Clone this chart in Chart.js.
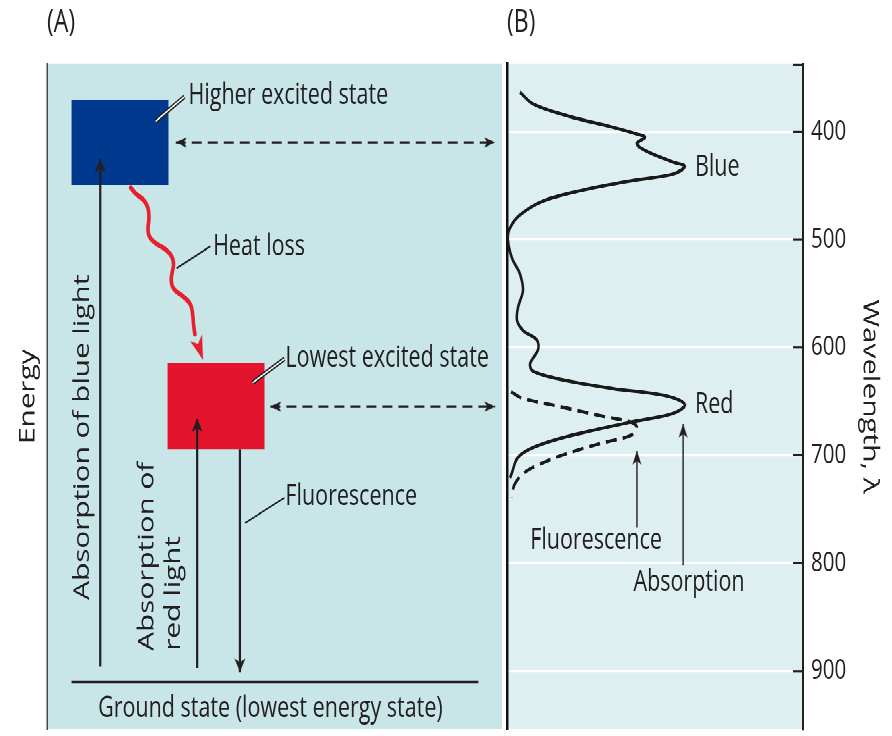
<!DOCTYPE html>
<html>
<head>
<meta charset="utf-8">
<title>Chlorophyll: excitation states and spectra</title>
<script src="https://cdn.jsdelivr.net/npm/chart.js@4/dist/chart.umd.min.js"></script>
<style>
  html, body { margin: 0; padding: 0; background: #ffffff; overflow: hidden; }
  #wrap { position: absolute; left: 0; top: 0; width: 892px; height: 545px;
          transform: scaleY(1.350459); transform-origin: 0 0; }
  #ca { position: absolute; left: 0; top: 0; }
  #cb { position: absolute; left: 480px; top: 0; }
</style>
</head>
<body>
<div id="wrap">
  <canvas id="ca" width="507" height="545"></canvas>
  <canvas id="cb" width="412" height="545"></canvas>
</div>
<script>
// ================= Panel B: spectra (x = relative intensity 0-100, y = wavelength, nm) =================
const wavelengthTicks = [400, 500, 600, 700, 800, 900];
const wavelengthRange = [337, 954];
const absorptionWavelength = [363, 374, 385, 395, 402, 405, 411, 418, 428, 432, 439, 445, 454, 464, 477, 489, 500, 517, 532, 547, 563, 575, 584, 593, 602, 615, 622, 630, 638, 645, 653, 661, 668, 676, 685, 694, 703, 716, 721];
const absorptionIntensity  = [4.4, 8.8, 20.3, 34.8, 43.9, 46.6, 43.9, 47.3, 56.1, 60.1, 56.1, 42.6, 25.7, 12.2, 4.4, 1.0, 0.3, 1.7, 4.4, 5.4, 3.7, 3.4, 5.4, 10.1, 10.5, 7.8, 8.8, 18.9, 35.8, 54.1, 60.1, 56.1, 43.9, 30.4, 16.9, 7.8, 3.4, 1.7, 1.0];
const fluorescenceWavelength = [641, 647, 654, 664, 669, 674, 681, 689, 699, 708, 717, 728, 739];
const fluorescenceIntensity  = [1.4, 5.1, 16.6, 33.1, 41.6, 43.9, 42.2, 31.4, 19.6, 11.1, 5.4, 2.4, 1.7];
const peakNames = ['Blue', 'Red'];
const peakLabelWavelength = [433, 653];
const peakLabelIntensity = [63.5, 63.5];
const spectrumNames = ['Fluorescence', 'Absorption'];
const spectrumLabelIntensity = [30.1, 61.5];
const spectrumLabelWavelength = [779, 818];
const spectrumPointerIntensity = [43.9, 59.5];
const spectrumPointerFrom = [767, 802];
const spectrumPointerTo = [696, 671];

// ================= Panel A: energy diagram (x = 0-100 across panel, y = energy 0-100) =================
const energyStates   = ['Ground state (lowest energy state)', 'Lowest excited state', 'Higher excited state'];
const stateEnergyLow  = [7.1, 42.1, 81.8];
const stateEnergyHigh = [7.1, 55.1, 94.6];
const stateLeft  = [5.4, 26.5, 5.4];
const stateRight = [94.8, 47.8, 26.7];
const transitionNames = ['Absorption of blue light', 'Absorption of red light', 'Fluorescence'];
const transitionX    = [11.7, 33.0, 42.4];
const transitionFrom = [9.4, 9.2, 42.1];
const transitionTo   = [85.7, 46.7, 8.6];
const heatLossX      = [18.4, 19.5, 21.3, 22.2, 22.4, 22.2, 22.5, 23.8, 25.9, 27.3, 27.8, 27.5, 27.3, 28.0, 29.8, 31.5, 32.0, 32.2, 32.5];
const heatLossEnergy = [81.4, 80.5, 79.5, 78.3, 76.8, 75.3, 74.1, 73.1, 72.2, 71.2, 69.9, 68.6, 67.4, 66.1, 65.1, 63.9, 62.4, 60.9, 59.4];
const heatLossTip = [34.3, 55.5];
const linkEnergy = [88.2, 48.5];
const linkFrom   = [28.3, 49.1];
const linkTo     = [98.5, 98.5];
const calloutText   = ['Higher excited state', 'Heat loss', 'Lowest excited state', 'Fluorescence'];
const calloutFromX  = [23.9, 28.5, 45.2, 43.5];
const calloutFromE  = [91.4, 69.3, 52.1, 31.0];
const calloutToX    = [30.2, 35.9, 52.2, 52.2];
const calloutToE    = [95.1, 72.6, 55.7, 34.8];
const calloutLabelX = [31.1, 36.5, 52.4, 52.4];
const calloutLabelE = [95.2, 72.5, 55.7, 34.9];

// ================= styling =================
const FONT = "'Open Sans', 'Noto Sans', 'DejaVu Sans', sans-serif";
const INK = '#231f20';
const BG_A = '#c8e5e7';
const BG_B = '#ddeff0';
const BLUE = '#00398d';
const RED = '#e4142c';
const HEAT = '#e8202e';

function pts(xs, ys) { return xs.map((x, i) => ({ x: x, y: ys[i] })); }
function noPad(s) { s.paddingTop = 0; s.paddingBottom = 0; s.paddingLeft = 0; s.paddingRight = 0; }

function makeHead(len, wid, color) {
  const size = Math.ceil(2 * len + 4), k = 4;
  const c = document.createElement('canvas');
  c.width = size * k; c.height = size * k;
  const g = c.getContext('2d');
  g.scale(k, k);
  const cx = size / 2, cy = size / 2;
  g.fillStyle = color;
  g.beginPath();
  g.moveTo(cx, cy);
  g.lineTo(cx + wid / 2, cy + len);
  g.lineTo(cx, cy + len * 0.72);
  g.lineTo(cx - wid / 2, cy + len);
  g.closePath();
  g.fill();
  const img = new Image();
  img.src = c.toDataURL();
  img.width = size; img.height = size;
  return img;
}

function panelPlugin(cfg) {
  return {
    id: 'panel',
    beforeDraw(chart) {
      const a = chart.chartArea, ctx = chart.ctx;
      ctx.save();
      ctx.fillStyle = cfg.bg;
      ctx.fillRect(a.left, a.top, a.right - a.left, a.bottom - a.top);
      ctx.restore();
    },
    afterDatasetsDraw(chart) {
      const ctx = chart.ctx, xs = chart.scales.x, ys = chart.scales.y;
      ctx.save();
      ctx.fillStyle = INK;
      ctx.textBaseline = 'middle';
      for (const L of cfg.labels) {
        const px = xs.getPixelForValue(L.x), py = ys.getPixelForValue(L.y);
        ctx.font = L.size + 'px ' + FONT;
        ctx.textAlign = L.align || 'left';
        ctx.save();
        ctx.translate(px, py);
        if (L.rot) ctx.rotate(L.rot * Math.PI / 180);
        ctx.fillText(L.text, 0, 0);
        ctx.restore();
      }
      if (cfg.innerTicks) {
        const a = chart.chartArea;
        ctx.strokeStyle = INK;
        ctx.lineWidth = 1.6;
        const ys2 = ys.ticks.map(t => ys.getPixelForValue(t.value)).concat([a.top + 0.8]);
        for (const py of ys2) {
          ctx.beginPath();
          ctx.moveTo(a.right - 10, py);
          ctx.lineTo(a.right, py);
          ctx.stroke();
        }
      }
      ctx.restore();
    }
  };
}

function lineDs(data, color, width, extra) {
  return Object.assign({
    data: data, borderColor: color, borderWidth: width, pointRadius: 0,
    fill: false, tension: 0, order: 3
  }, extra || {});
}

async function build() {
  const headV = makeHead(10, 11, INK);
  const headH = makeHead(11, 7.5, INK);
  const headR = makeHead(18, 13, HEAT);
  const headP = makeHead(10, 9, INK);
  await Promise.all([headV, headH, headR, headP].map(i => i.decode().catch(() => {})));

  // ---------- Panel A ----------
  const dsA = [];
  const boxColor = [null, RED, BLUE];
  for (const i of [1, 2]) {
    const l = stateLeft[i], r = stateRight[i], lo = stateEnergyLow[i], hi = stateEnergyHigh[i];
    dsA.push(lineDs(pts([l, r, r, l, l], [lo, lo, hi, hi, lo]), 'rgba(0,0,0,0)', 0,
      { fill: 'shape', backgroundColor: boxColor[i], order: 20, label: energyStates[i] }));
  }
  dsA.push(lineDs(pts([stateLeft[0], stateRight[0]], [stateEnergyLow[0], stateEnergyHigh[0]]), INK, 2.3, { label: energyStates[0] }));
  for (let i = 0; i < transitionX.length; i++) {
    dsA.push(lineDs(pts([transitionX[i], transitionX[i]], [transitionFrom[i], transitionTo[i]]), INK, 2.2, { label: transitionNames[i] }));
  }
  for (let i = 0; i < linkEnergy.length; i++) {
    dsA.push(lineDs(pts([linkFrom[i], linkTo[i]], [linkEnergy[i], linkEnergy[i]]), INK, 1.6, { borderDash: [10, 6] }));
  }
  dsA.push(lineDs(pts(heatLossX, heatLossEnergy), HEAT, 3.6, { tension: 0.45, borderCapStyle: 'round', label: 'Heat loss' }));
  const doubleLeader = [true, false, true, false];
  for (let i = 0; i < calloutText.length; i++) {
    const d = pts([calloutFromX[i], calloutToX[i]], [calloutFromE[i], calloutToE[i]]);
    if (doubleLeader[i]) {
      dsA.push(lineDs(d, INK, 3.4, { order: 2 }));
      dsA.push(lineDs(d, '#ffffff', 1.2, { order: 1 }));
    } else {
      dsA.push(lineDs(d, INK, 1.3, { order: 2 }));
    }
  }
  const headsA = [
    { x: transitionX[0], y: transitionTo[0], s: headV, r: 0 },
    { x: transitionX[1], y: transitionTo[1], s: headV, r: 0 },
    { x: transitionX[2], y: transitionTo[2], s: headV, r: 180 },
    { x: linkFrom[0], y: linkEnergy[0], s: headH, r: 270 },
    { x: linkTo[0], y: linkEnergy[0], s: headH, r: 90 },
    { x: linkFrom[1], y: linkEnergy[1], s: headH, r: 270 },
    { x: linkTo[1], y: linkEnergy[1], s: headH, r: 90 },
    { x: heatLossTip[0], y: heatLossTip[1], s: headR, r: 157 }
  ];
  dsA.push({
    data: headsA.map(h => ({ x: h.x, y: h.y })), showLine: false, order: 0,
    pointStyle: headsA.map(h => h.s), pointRotation: headsA.map(h => h.r),
    pointRadius: 5, borderWidth: 0, backgroundColor: INK, borderColor: INK
  });

  const labelsA = [];
  for (let i = 0; i < calloutText.length; i++) {
    labelsA.push({ text: calloutText[i], x: calloutLabelX[i], y: calloutLabelE[i], size: 21.5 });
  }
  labelsA.push({ text: energyStates[0], x: 49.1, y: 3.05, size: 21.5, align: 'center' });
  labelsA.push({ text: transitionNames[0], x: 7.8, y: 43.9, size: 22, align: 'center', rot: -90 });
  labelsA.push({ text: 'Absorption of', x: 22.0, y: 11.8, size: 22, align: 'left', rot: -90 });
  labelsA.push({ text: 'red light', x: 27.8, y: 11.8, size: 22, align: 'left', rot: -90 });

  new Chart(document.getElementById('ca'), {
    type: 'line',
    data: { datasets: dsA },
    options: {
      responsive: false, animation: false, devicePixelRatio: 2, events: [],
      layout: { padding: 0 },
      plugins: {
        legend: { display: false }, tooltip: { enabled: false },
        title: { display: true, text: '(A)', align: 'start', fullSize: false, color: INK,
                 font: { family: FONT, size: 23, weight: 'normal' }, padding: { top: 3.4, bottom: 16.4 } }
      },
      scales: {
        x: { type: 'linear', min: 0, max: 100, display: false, afterFit: noPad },
        y: { type: 'linear', min: 0, max: 100, position: 'left',
             ticks: { display: false }, grid: { display: false },
             border: { display: true, color: '#4a4a4a', width: 1.5 },
             title: { display: true, text: 'Energy', color: INK, font: { family: FONT, size: 22 }, padding: { top: 15, bottom: 6 } },
             afterFit(s) { noPad(s); s.width = 47; } }
      }
    },
    plugins: [panelPlugin({ bg: BG_A, labels: labelsA })]
  });

  // ---------- Panel B ----------
  const dsB = [];
  dsB.push(lineDs(pts(absorptionIntensity, absorptionWavelength), '#1a1a1a', 2.5, { tension: 0.35, label: 'Absorption' }));
  dsB.push(lineDs(pts(fluorescenceIntensity, fluorescenceWavelength), '#1a1a1a', 2.5, { tension: 0.35, borderDash: [11, 6], label: 'Fluorescence' }));
  for (let i = 0; i < spectrumPointerIntensity.length; i++) {
    dsB.push(lineDs(pts([spectrumPointerIntensity[i], spectrumPointerIntensity[i]], [spectrumPointerFrom[i], spectrumPointerTo[i]]), INK, 1.4));
  }
  dsB.push({
    data: spectrumPointerIntensity.map((x, i) => ({ x: x, y: spectrumPointerTo[i] })), showLine: false, order: 0,
    pointStyle: headP, pointRotation: 0, pointRadius: 5, borderWidth: 0
  });
  const labelsB = [];
  for (let i = 0; i < peakNames.length; i++) {
    labelsB.push({ text: peakNames[i], x: peakLabelIntensity[i], y: peakLabelWavelength[i], size: 21.5 });
  }
  for (let i = 0; i < spectrumNames.length; i++) {
    labelsB.push({ text: spectrumNames[i], x: spectrumLabelIntensity[i], y: spectrumLabelWavelength[i], size: 21.5, align: 'center' });
  }

  new Chart(document.getElementById('cb'), {
    type: 'line',
    data: { datasets: dsB },
    options: {
      responsive: false, animation: false, devicePixelRatio: 2, events: [],
      layout: { padding: { left: 27 } },
      plugins: {
        legend: { display: false }, tooltip: { enabled: false },
        title: { display: true, text: '(B)', align: 'start', fullSize: false, color: INK,
                 font: { family: FONT, size: 23, weight: 'normal' }, padding: { top: 3.4, bottom: 16.4 } }
      },
      scales: {
        x: { type: 'linear', min: 0, max: 100, display: false, afterFit: noPad },
        y: { type: 'linear', position: 'right', reverse: true, min: wavelengthRange[0], max: wavelengthRange[1],
             afterBuildTicks(s) { s.ticks = wavelengthTicks.map(v => ({ value: v })); },
             ticks: { color: INK, font: { family: FONT, size: 20.5 }, padding: 8 },
             grid: { color: '#ffffff', lineWidth: 1.6, drawTicks: false },
             border: { display: true, color: INK, width: 2 },
             title: { display: true, text: 'Wavelength, λ', color: INK, font: { family: FONT, size: 22 }, padding: { top: 9, bottom: 6 } },
             afterFit(s) { noPad(s); s.width = 89; } },
        edge: { type: 'linear', position: 'left', min: 0, max: 1,
                ticks: { display: false }, grid: { display: false },
                border: { display: true, color: '#111111', width: 2.5 },
                afterFit(s) { noPad(s); s.width = 0; } }
      }
    },
    plugins: [panelPlugin({ bg: BG_B, labels: labelsB, innerTicks: true })]
  });
}
build();
</script>
</body>
</html>
